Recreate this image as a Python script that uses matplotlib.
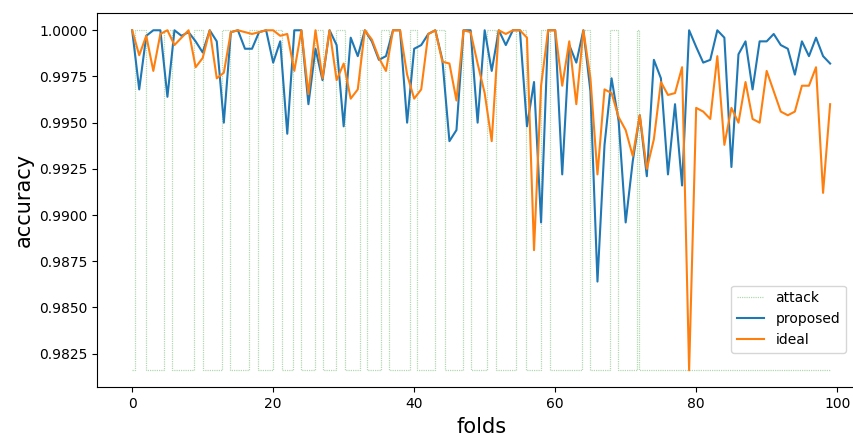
import numpy as np
import matplotlib
matplotlib.use("Agg")
import matplotlib.pyplot as plt

folds = np.arange(100)

proposed = [
    1.0, 0.9968, 0.9997, 1.0, 1.0, 0.9964, 1.0, 0.9997, 0.9999, 0.9994,
    0.9988, 1.0, 0.9994, 0.9950, 0.9999, 1.0, 0.9990, 0.9990, 0.9999, 1.0,
    0.99825, 0.9994, 0.9944, 1.0, 1.0, 0.9960, 0.9990, 0.9973, 1.0, 0.9992,
    0.9948, 0.9996, 0.9986, 1.0, 0.9994, 0.9984, 0.9986, 1.0, 1.0, 0.9950,
    0.9990, 0.9992, 0.9998, 1.0, 0.9984, 0.9940, 0.9946, 1.0, 1.0, 0.9950,
    1.0, 0.9978, 1.0, 0.9992, 1.0, 1.0, 0.9948, 0.9972, 0.9896, 1.0,
    1.0, 0.9922, 0.9992, 0.99825, 1.0, 0.9967, 0.9864, 0.9938, 0.9974, 0.9951,
    0.9896, 0.9929, 0.9954, 0.9921, 0.9984, 0.9974, 0.9922, 0.9960, 0.9916, 1.0,
    0.9991, 0.99825, 0.9984, 1.0, 0.9996, 0.9926, 0.9987, 0.9994, 0.9968, 0.9994,
    0.9994, 0.9998, 0.9992, 0.9990, 0.9976, 0.9994, 0.9986, 0.9996, 0.9986, 0.9982,
]

ideal = [
    1.0, 0.99865, 0.9997, 0.9978, 0.9998, 1.0, 0.9992, 0.9996, 1.0, 0.9980,
    0.9985, 1.0, 0.9974, 0.9977, 0.9999, 1.0, 0.9999, 0.9998, 0.9999, 1.0,
    1.0, 0.9997, 0.9998, 0.9978, 1.0, 0.99654, 1.0, 0.9974, 1.0, 0.9973,
    0.9982, 0.9963, 0.9968, 1.0, 0.9995, 0.9985, 0.9978, 1.0, 1.0, 0.9976,
    0.9963, 0.9968, 0.9998, 1.0, 0.9983, 0.9982, 0.9962, 1.0, 0.9999, 0.9982,
    0.9966, 0.9940, 1.0, 0.9998, 1.0, 1.0, 0.9996, 0.9881, 0.9970, 1.0,
    1.0, 0.9970, 0.9994, 0.9960, 1.0, 0.9974, 0.9922, 0.9968, 0.9966, 0.9953,
    0.9946, 0.9932, 0.9954, 0.9925, 0.9941, 0.9972, 0.9965, 0.9966, 0.9980, 0.9816,
    0.9958, 0.9956, 0.9952, 0.9986, 0.9938, 0.9958, 0.9950, 0.9972, 0.9952, 0.9950,
    0.9978, 0.9967, 0.9956, 0.9954, 0.9956, 0.9970, 0.9970, 0.9980, 0.9912, 0.9960,
]

# intervals (in fold units) where an attack is present
attack_start = [0.45, 4.58, 8.77, 12.8, 16.55, 19.96, 22.79, 25.87, 28.85, 32.26,
                35.3, 39.36, 43.0, 46.9, 50.4, 54.5, 58.05, 63.8, 67.74, 71.6]
attack_end = [1.99, 5.64, 10.02, 13.9, 17.83, 21.2, 23.98, 27.05, 30.13, 33.3,
              36.5, 40.45, 44.32, 48.1, 51.66, 55.8, 59.3, 65.0, 68.9, 71.9]

low = min(ideal)
att_x = [0]
att_y = [low]
for s, e in zip(attack_start, attack_end):
    att_x += [s, s, e, e]
    att_y += [low, 1.0, 1.0, low]
att_x.append(99)
att_y.append(low)

fig = plt.figure(figsize=(8.54, 4.38), dpi=100)
ax = fig.add_axes([0.1139, 0.1158, 0.899, 0.8539])

ax.plot(att_x, att_y, color='green', alpha=0.3, linewidth=0.9,
        dashes=(1, 0.8), label='attack')
ax.plot(folds, proposed, label='proposed')
ax.plot(folds, ideal, label='ideal')

ax.set_xlabel('folds', fontsize=15)
ax.set_ylabel('accuracy', fontsize=15)
ax.legend(loc='lower right', bbox_to_anchor=(0.975, 0.0925), borderaxespad=0)

fig.savefig('out.png', dpi=100)
